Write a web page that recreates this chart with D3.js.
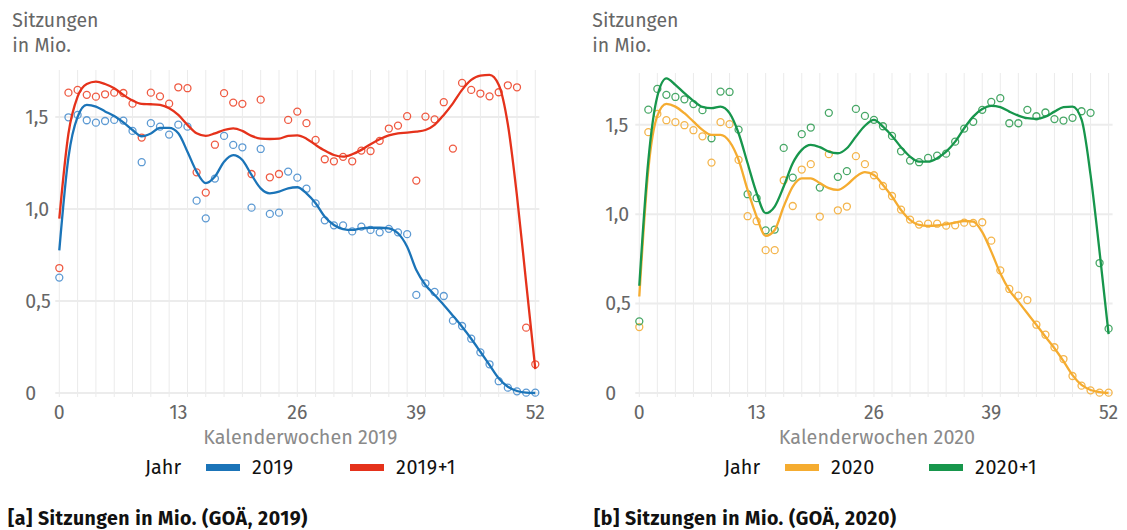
<!DOCTYPE html>
<html>
<head>
<meta charset="utf-8">
<script src="https://cdn.jsdelivr.net/npm/d3@7"></script>
<style>
  body { margin: 0; background: #fff; }
  svg text { font-family: "Fira Sans", Lato, "Open Sans", sans-serif; }
</style>
</head>
<body>
<script>
// Kalenderwochen 0..52
var weeks = d3.range(0, 53);
var xTicks = [0, 13, 26, 39, 52];
var yTicks = [0, 0.5, 1, 1.5];
var gridWeeks = d3.range(0, 53, 2);

// [a] 2019 - einzelne Wochenwerte (Mio. Sitzungen)
var pts2019 = [0.627, 1.498, 1.511, 1.482, 1.469, 1.478, 1.484, 1.48, 1.424, 1.254,
  1.466, 1.447, 1.404, 1.458, 1.447, 1.045, 0.949, 1.165, 1.397, 1.348,
  1.335, 1.007, 1.326, 0.973, 0.98, 1.203, 1.17, 1.11, 1.03, 0.938,
  0.911, 0.911, 0.878, 0.904, 0.886, 0.873, 0.892, 0.873, 0.863, 0.533,
  0.596, 0.549, 0.527, 0.393, 0.364, 0.295, 0.221, 0.156, 0.064, 0.029,
  0.009, 0.002, 0.002];
var pts2019p1 = [0.679, 1.632, 1.647, 1.62, 1.61, 1.623, 1.632, 1.63, 1.572, 1.388,
  1.632, 1.612, 1.572, 1.661, 1.656, 1.199, 1.089, 1.349, 1.629, 1.578,
  1.571, 1.19, 1.594, 1.172, 1.19, 1.484, 1.529, 1.466, 1.375, 1.27,
  1.259, 1.283, 1.259, 1.317, 1.315, 1.37, 1.437, 1.453, 1.504, 1.154,
  1.502, 1.487, 1.58, 1.328, 1.685, 1.647, 1.627, 1.612, 1.634, 1.672,
  1.661, 0.355, 0.156];
// geglaettete Kurven
var fit2019 = [0.775, 1.28, 1.5, 1.565, 1.556, 1.53, 1.505, 1.47, 1.429, 1.395,
  1.41, 1.44, 1.44, 1.411, 1.311, 1.203, 1.14, 1.176, 1.257, 1.293,
  1.266, 1.185, 1.112, 1.085, 1.094, 1.112, 1.118, 1.085, 1.031, 0.958,
  0.913, 0.891, 0.886, 0.895, 0.898, 0.898, 0.895, 0.868, 0.795, 0.668,
  0.587, 0.533, 0.478, 0.42, 0.36, 0.295, 0.224, 0.152, 0.08, 0.034,
  0.011, 0.002, 0];
var fit2019p1 = [0.948, 1.41, 1.61, 1.679, 1.692, 1.679, 1.656, 1.62, 1.589, 1.571,
  1.569, 1.565, 1.547, 1.511, 1.457, 1.411, 1.397, 1.411, 1.429, 1.438,
  1.424, 1.397, 1.382, 1.38, 1.382, 1.397, 1.4, 1.382, 1.348, 1.317,
  1.293, 1.284, 1.297, 1.321, 1.352, 1.379, 1.4, 1.411, 1.415, 1.42,
  1.429, 1.457, 1.511, 1.574, 1.647, 1.701, 1.725, 1.728, 1.675, 1.46,
  1.07, 0.6, 0.13];

// [b] 2020
var pts2020 = [0.369, 1.459, 1.561, 1.526, 1.515, 1.498, 1.47, 1.436, 1.289, 1.515,
  1.504, 1.304, 0.989, 0.961, 0.799, 0.799, 1.19, 1.046, 1.25, 1.28,
  0.987, 1.336, 1.022, 1.043, 1.325, 1.28, 1.218, 1.158, 1.102, 1.026,
  0.97, 0.942, 0.947, 0.947, 0.936, 0.938, 0.953, 0.951, 0.955, 0.852,
  0.686, 0.582, 0.545, 0.52, 0.382, 0.326, 0.256, 0.19, 0.095, 0.041,
  0.015, 0.002, 0.002];
var pts2020p1 = [0.401, 1.585, 1.701, 1.668, 1.656, 1.643, 1.616, 1.582, 1.425, 1.686,
  1.684, 1.473, 1.112, 1.09, 0.91, 0.914, 1.371, 1.205, 1.448, 1.485,
  1.149, 1.567, 1.209, 1.241, 1.589, 1.55, 1.528, 1.492, 1.438, 1.352,
  1.3, 1.291, 1.315, 1.328, 1.339, 1.406, 1.479, 1.517, 1.584, 1.628,
  1.649, 1.509, 1.509, 1.584, 1.548, 1.569, 1.532, 1.524, 1.539, 1.576,
  1.567, 0.727, 0.36];
var fit2020 = [0.54, 1.25, 1.55, 1.617, 1.602, 1.565, 1.518, 1.472, 1.444, 1.444,
  1.406, 1.304, 1.136, 0.987, 0.879, 0.912, 1.043, 1.155, 1.201, 1.201,
  1.174, 1.146, 1.136, 1.164, 1.21, 1.235, 1.22, 1.164, 1.099, 1.024,
  0.968, 0.94, 0.935, 0.937, 0.944, 0.953, 0.962, 0.959, 0.9, 0.791,
  0.67, 0.576, 0.511, 0.446, 0.381, 0.315, 0.25, 0.178, 0.1, 0.045,
  0.017, 0.005, 0];
var fit2020p1 = [0.6, 1.3, 1.66, 1.76, 1.724, 1.677, 1.634, 1.6, 1.593, 1.602,
  1.565, 1.453, 1.285, 1.118, 1.006, 1.043, 1.155, 1.285, 1.36, 1.388,
  1.375, 1.35, 1.341, 1.369, 1.434, 1.495, 1.528, 1.49, 1.438, 1.375,
  1.322, 1.294, 1.294, 1.313, 1.35, 1.406, 1.481, 1.546, 1.588, 1.606,
  1.599, 1.574, 1.552, 1.537, 1.533, 1.546, 1.574, 1.599, 1.602, 1.53,
  1.22, 0.79, 0.33];

var svg = d3.select("body").append("svg")
    .attr("width", 1127)
    .attr("height", 530);

var de = d3.formatLocale({decimal: ",", thousands: ".", grouping: [3], currency: ["", " €"]});
var fmt = de.format(".1f");

function panel(cfg) {
  var x = d3.scaleLinear().domain([0, 52]).range([cfg.x0, cfg.x1]);
  var y = d3.scaleLinear().domain([0, cfg.yMax]).range([393, cfg.top]);
  var g = svg.append("g");

  // gridlines
  g.selectAll(".vg").data(gridWeeks).enter().append("line")
      .attr("x1", function(d) { return x(d); })
      .attr("x2", function(d) { return x(d); })
      .attr("y1", cfg.top).attr("y2", 397)
      .attr("stroke", "#ebebeb").attr("stroke-width", 1);
  g.selectAll(".hg").data(yTicks).enter().append("line")
      .attr("x1", cfg.x0 - 4).attr("x2", cfg.x1 + 4)
      .attr("y1", function(d) { return y(d); })
      .attr("y2", function(d) { return y(d); })
      .attr("stroke", "#ececec").attr("stroke-width", 2);

  // axis labels
  g.selectAll(".yl").data(yTicks).enter().append("text")
      .attr("x", cfg.x0 - 34).attr("y", function(d) { return y(d); })
      .attr("dy", "0.35em")
      .attr("font-size", 19.5).attr("fill", "#666")
      .text(function(d) { return d === 0 ? "0" : fmt(d); });
  g.selectAll(".xl").data(xTicks).enter().append("text")
      .attr("x", function(d) { return x(d); }).attr("y", 419)
      .attr("text-anchor", "middle")
      .attr("font-size", 19.5).attr("fill", "#666")
      .text(function(d) { return d; });

  g.append("text").attr("x", cfg.x0 - 47).attr("y", 27)
      .attr("font-size", 19.5).attr("fill", "#666").text("Sitzungen");
  g.append("text").attr("x", cfg.x0 - 47).attr("y", 52)
      .attr("font-size", 19.5).attr("fill", "#666").text("in Mio.");
  g.append("text").attr("x", (cfg.x0 + cfg.x1) / 2 + 3).attr("y", 444)
      .attr("text-anchor", "middle")
      .attr("font-size", 19.8).attr("fill", "#8a8a8a").text(cfg.xTitle);

  // series
  var line = d3.line()
      .x(function(d, i) { return x(weeks[i]); })
      .y(function(d) { return y(d); })
      .curve(d3.curveMonotoneX);

  cfg.series.forEach(function(s) {
    g.append("g").selectAll("circle").data(s.pts).enter().append("circle")
        .attr("cx", function(d, i) { return x(weeks[i]); })
        .attr("cy", function(d) { return y(d); })
        .attr("r", 3.5)
        .attr("fill", "none")
        .attr("stroke", s.ptColor)
        .attr("stroke-width", 1.3);
  });
  cfg.series.forEach(function(s) {
    g.append("path").datum(s.fit)
        .attr("d", line)
        .attr("fill", "none")
        .attr("stroke", s.color)
        .attr("stroke-width", 2.3);
  });

  // legend
  var lg = g.append("g");
  lg.append("text").attr("x", cfg.legendX).attr("y", 474)
      .attr("font-size", 19.8).attr("fill", "#111").text("Jahr");
  cfg.series.forEach(function(s, i) {
    var lx = cfg.legendX + 61 + i * 144;
    lg.append("rect").attr("x", lx).attr("y", 464).attr("width", 34).attr("height", 7)
        .attr("fill", s.color);
    lg.append("text").attr("x", lx + 46).attr("y", 474)
        .attr("font-size", 19.8).attr("letter-spacing", 0.6).attr("fill", "#111").text(s.name);
  });

  g.append("text").attr("x", cfg.captionX).attr("y", 525)
      .attr("font-size", 19.5).attr("font-weight", "bold").attr("letter-spacing", 0.5)
      .attr("fill", "#111")
      .text(cfg.caption);
}

panel({
  x0: 59.3, x1: 535.3, top: 70, yMax: 1.755,
  xTitle: "Kalenderwochen 2019",
  legendX: 145, captionX: 8,
  caption: "[a] Sitzungen in Mio. (GOÄ, 2019)",
  series: [
    {name: "2019", pts: pts2019, fit: fit2019, color: "#1b74b8", ptColor: "#5d9ad3"},
    {name: "2019+1", pts: pts2019p1, fit: fit2019p1, color: "#e5321b", ptColor: "#ef5a42"}
  ]
});

panel({
  x0: 639.3, x1: 1108.6, top: 73, yMax: 1.79,
  xTitle: "Kalenderwochen 2020",
  legendX: 724, captionX: 594,
  caption: "[b] Sitzungen in Mio. (GOÄ, 2020)",
  series: [
    {name: "2020", pts: pts2020, fit: fit2020, color: "#f5ac30", ptColor: "#f4b54c"},
    {name: "2020+1", pts: pts2020p1, fit: fit2020p1, color: "#17964c", ptColor: "#47a766"}
  ]
});
</script>
</body>
</html>
